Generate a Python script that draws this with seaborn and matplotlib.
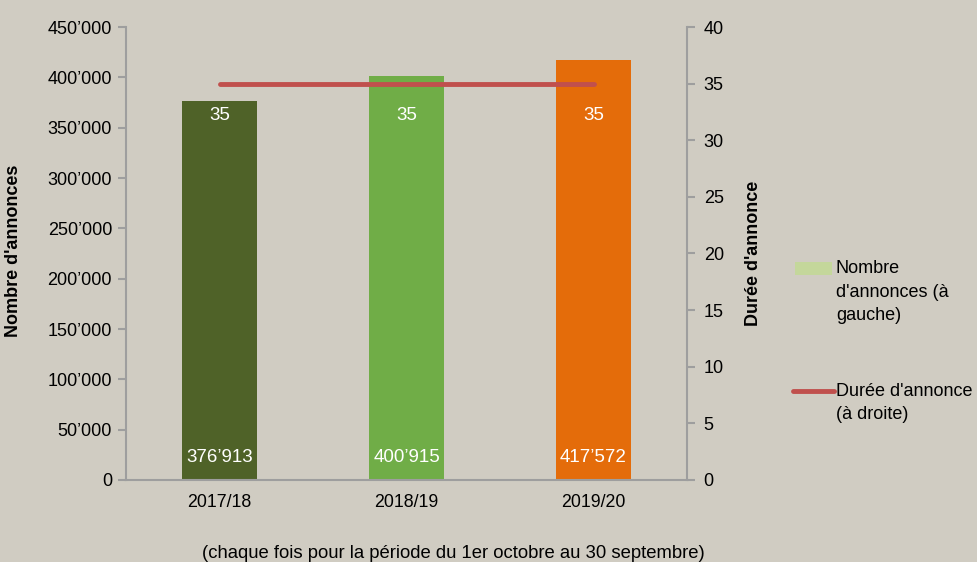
import numpy as np
import pandas as pd
import matplotlib
matplotlib.use("Agg")
import matplotlib.pyplot as plt
import seaborn as sns
from matplotlib.patches import Rectangle
from matplotlib.lines import Line2D
from matplotlib.ticker import FuncFormatter

categories = ["2017/18", "2018/19", "2019/20"]
annonces = [376913, 400915, 417572]
duree = [35, 35, 35]
bar_colors = ["#4f6228", "#70ad47", "#e46c0a"]
line_color = "#c0504d"
bg = "#d0ccc2"
spine_col = "#9e9e9e"

sns.set_theme(style="white")
plt.rcParams["font.family"] = ["Liberation Sans", "DejaVu Sans"]
plt.rcParams["text.color"] = "black"

fig = plt.figure(figsize=(9.78, 5.62), dpi=100, facecolor=bg)
ax = fig.add_axes([126/978, 1-480/562, (687-126)/978, (480-27)/562])
ax.set_facecolor(bg)

df = pd.DataFrame({"cat": categories, "n": annonces})
sns.barplot(data=df, x="cat", y="n", hue="cat", palette=bar_colors,
            width=0.4, legend=False, ax=ax, saturation=1, edgecolor="none", linewidth=0)

ax.set_ylim(0, 450000)
ax.set_yticks(np.arange(0, 450001, 50000))
ax.yaxis.set_major_formatter(FuncFormatter(lambda v, p: "0" if v == 0 else f"{int(v):,}".replace(",", "\u2019")))
ax.set_xlim(-0.5, len(categories)-0.5)
ax.set_xticks(np.arange(-0.5, len(categories)), labels=[""]*(len(categories)+1))
ax.set_xticks(np.arange(len(categories)), labels=categories, minor=True)
ax.tick_params(axis="x", which="major", length=6, width=1.5, color=spine_col, direction="out")
ax.tick_params(axis="x", which="minor", length=0, labelsize=12.8, pad=10, labelcolor="black")
ax.tick_params(axis="y", length=6, width=1.5, color=spine_col, direction="out", labelsize=13, pad=4, labelcolor="black")
ax.set_xlabel("")
ax.set_ylabel("Nombre d'annonces", fontsize=13, fontweight="bold", color="black")
ax.yaxis.set_label_coords(-0.186, 0.505)
for s in ["top", "right"]:
    ax.spines[s].set_visible(False)
for s in ["left", "bottom"]:
    ax.spines[s].set_color(spine_col)
    ax.spines[s].set_linewidth(1.5)

ax2 = ax.twinx()
sns.lineplot(x=np.arange(len(categories)), y=duree, color=line_color, linewidth=3.5, ax=ax2)
ax2.set_ylim(0, 40)
ax2.set_yticks(np.arange(0, 41, 5))
ax2.tick_params(axis="y", length=6, width=1.5, color=spine_col, direction="out", labelsize=13, pad=6, labelcolor="black")
ax2.set_ylabel("Durée d'annonce", fontsize=13, fontweight="bold", color="black")
ax2.yaxis.set_label_coords(1.103, 0.5)
for s in ["top", "left", "bottom"]:
    ax2.spines[s].set_visible(False)
ax2.spines["right"].set_color(spine_col)
ax2.spines["right"].set_linewidth(1.5)

for i, (n, d) in enumerate(zip(annonces, duree)):
    ax.annotate(f"{n:,}".replace(",", "\u2019"), (i, 0), xytext=(0, 16.5), textcoords="offset points",
                ha="center", va="center", color="white", fontsize=13.5)
    ax2.annotate(f"{d}", (i, d), xytext=(0, -23), textcoords="offset points",
                 ha="center", va="center", color="white", fontsize=13.5)

# legend
fig.add_artist(Rectangle((795/978, 1-275/562), 37/978, 13/562, transform=fig.transFigure,
                         facecolor="#c4d79b", edgecolor="none"))
fig.add_artist(Line2D([793/978, 834/978], [1-391/562]*2, transform=fig.transFigure,
                      color=line_color, linewidth=3.5))
fig.text(836/978, 1-260/562, "Nombre\nd'annonces (à\ngauche)", fontsize=13, va="top",
         ha="left", linespacing=1.5)
fig.text(836/978, 1-383/562, "Durée d'annonce\n(à droite)", fontsize=13, va="top",
         ha="left", linespacing=1.45)

fig.text(453/978, 1-553/562, "(chaque fois pour la période du 1er octobre au 30 septembre)",
         fontsize=13.3, ha="center", va="center")

fig.savefig("out.png", dpi=100, facecolor=bg)
